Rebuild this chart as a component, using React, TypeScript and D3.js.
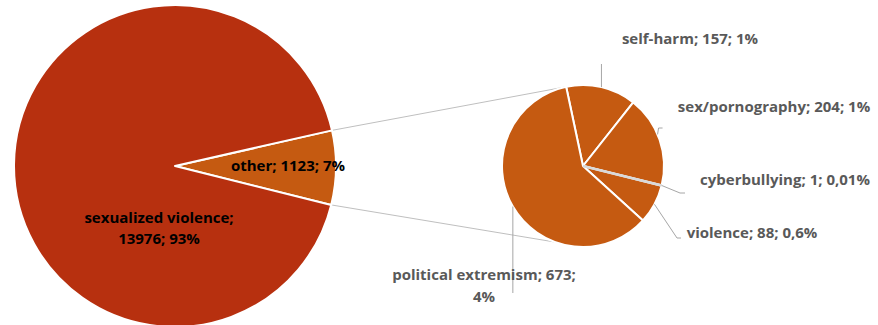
import React from "react";
import * as d3 from "d3";

const mainCategories = ["other", "sexualized violence"];
const mainValues = [1123, 13976];
const mainLabels = ["other; 1123; 7%", "sexualized violence;|13976; 93%"];

const subCategories = ["self-harm", "sex/pornography", "cyberbullying", "violence", "political extremism"];
const subValues = [157, 204, 1, 88, 673];
const subLabels = [
  "self-harm; 157; 1%",
  "sex/pornography; 204; 1%",
  "cyberbullying; 1; 0,01%",
  "violence; 88; 0,6%",
  "political extremism; 673;|4%",
];

const W = 878;
const H = 325;
const RED = "#B7300F";
const ORANGE = "#C55A11";
const FONT = "'Open Sans', 'DejaVu Sans', sans-serif";

const deg = Math.PI / 180;

export default function App() {
  const m = { cx: 175, cy: 166, r: 161 };
  const s = { cx: 583, cy: 166, r: 81 };

  const otherSpan = (mainValues[0] / d3.sum(mainValues)) * 2 * Math.PI;
  const mainStart = Math.PI / 2 - otherSpan / 2 + 0.6 * deg;
  const mainPie = d3.pie<number>().sort(null).startAngle(mainStart).endAngle(mainStart + 2 * Math.PI);
  const mainArcs = mainPie(mainValues);
  const mainArc = d3.arc<d3.PieArcDatum<number>>().innerRadius(0).outerRadius(m.r);

  const subStart = -12 * deg;
  const subPie = d3.pie<number>().sort(null).startAngle(subStart).endAngle(subStart + 2 * Math.PI);
  const subArcs = subPie(subValues);
  const subArc = d3.arc<d3.PieArcDatum<number>>().innerRadius(0).outerRadius(s.r);

  const pt = (c: { cx: number; cy: number; r: number }, a: number, rr = c.r) => [
    c.cx + rr * Math.sin(a),
    c.cy - rr * Math.cos(a),
  ];

  const o = mainArcs[0];
  const oTop = pt(m, o.startAngle);
  const oBot = pt(m, o.endAngle);
  const sTop = pt(s, subStart);
  const sBot = pt(s, 200 * deg);

  const mid = (d: d3.PieArcDatum<number>) => (d.startAngle + d.endAngle) / 2;
  const sh = pt(s, mid(subArcs[0]));
  const sp = pt(s, mid(subArcs[1]) - 4 * deg);
  const cb = pt(s, mid(subArcs[2]));
  const vi = pt(s, mid(subArcs[3]));
  const pe = pt(s, 240 * deg);

  const leaders = [
    `M${sh[0]},${sh[1]} L${sh[0]},${64}`,
    `M${sp[0]},${sp[1]} L${sp[0] + 1},${128} L${sp[0] + 5},${128}`,
    `M${cb[0]},${cb[1]} L${680},${193} L${685},${193}`,
    `M${vi[0]},${vi[1]} L${677},${238} L${681},${238}`,
    `M${pe[0]},${pe[1]} L${pe[0]},${293}`,
  ];

  const subLabelPos: [number, number][] = [
    [690, 44],
    [774, 112],
    [785, 185],
    [752, 238],
    [484, 280],
  ];

  const mainLabelPos: [number, number][] = [
    [288, 171],
    [159, 223],
  ];

  return (
    <svg width={W} height={H} style={{ position: "absolute", left: 0, top: 0 }}>
      <rect width={W} height={H} fill="#fff" />
      <line x1={oTop[0]} y1={oTop[1]} x2={sTop[0]} y2={sTop[1]} stroke="#BFBFBF" strokeWidth={1} />
      <line x1={oBot[0]} y1={oBot[1]} x2={sBot[0]} y2={sBot[1]} stroke="#BFBFBF" strokeWidth={1} />
      <g transform={`translate(${m.cx},${m.cy})`}>
        {mainArcs.map((d, i) => (
          <path key={mainCategories[i]} d={mainArc(d) || ""} fill={i === 0 ? ORANGE : RED} stroke="#fff" strokeWidth={2} strokeLinejoin="round" />
        ))}
      </g>
      <g transform={`translate(${s.cx},${s.cy})`}>
        {subArcs.map((d, i) => (
          <path key={subCategories[i]} d={subArc(d) || ""} fill={ORANGE} stroke="#fff" strokeWidth={i === 2 ? 0 : 2} strokeLinejoin="round" />
        ))}
      </g>
      <line x1={s.cx} y1={s.cy} x2={cb[0]} y2={cb[1]} stroke="#D9D9D9" strokeWidth={2.6} />
      {leaders.map((p, i) => (
        <path key={i} d={p} fill="none" stroke="#A6A6A6" strokeWidth={1} />
      ))}
      {mainLabels.map((t, i) => (
        <text key={t} x={mainLabelPos[i][0]} y={mainLabelPos[i][1]} textAnchor="middle" fontFamily={FONT} fontWeight={700} fontSize={15} fill="#000">
          {t.split("|").map((line, j) => (
            <tspan key={j} x={mainLabelPos[i][0]} dy={j === 0 ? 0 : 21}>{line}</tspan>
          ))}
        </text>
      ))}
      {subLabels.map((t, i) => (
        <text key={t} x={subLabelPos[i][0]} y={subLabelPos[i][1]} textAnchor="middle" fontFamily={FONT} fontWeight={700} fontSize={15} fill="#595959">
          {t.split("|").map((line, j) => (
            <tspan key={j} x={subLabelPos[i][0]} dy={j === 0 ? 0 : 22}>{line}</tspan>
          ))}
        </text>
      ))}
    </svg>
  );
}
